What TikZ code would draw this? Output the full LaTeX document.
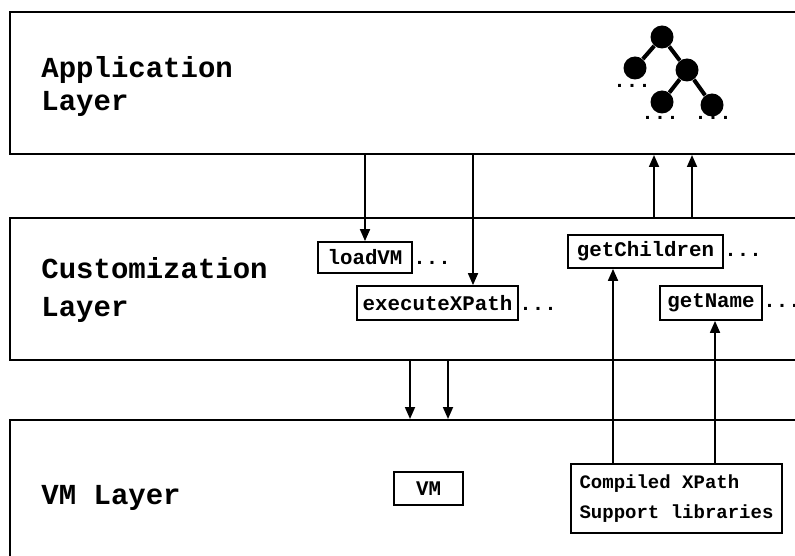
\documentclass[tikz,border=0pt]{standalone}
\usepackage{fontspec}
\setmonofont{Liberation Mono}
\usetikzlibrary{arrows.meta,fit}

\tikzset{
  layer/.style={draw, line width=1pt, inner sep=0pt},
  layertext/.style={font=\ttfamily\bfseries\fontsize{14.5}{16.5}\selectfont, align=left, inner sep=0pt},
  fnbox/.style={draw, line width=0.9pt, inner sep=0pt, font=\ttfamily\bfseries\fontsize{10.4}{12}\selectfont},
  dots/.style={font=\ttfamily\bfseries\fontsize{10.4}{12}\selectfont, inner sep=0pt, anchor=base west},
  call/.style={-{Triangle[length=6pt,width=5pt]}, line width=0.9pt},
  treenode/.style={circle, fill, inner sep=0pt, minimum size=11.5pt},
  branch/.style={line width=2pt},
}

\begin{document}
\begin{tikzpicture}[x=0.5pt, y=-0.5pt]
    \clip (0,0) rectangle (795,555);

    % Layers
    \node[layer, fit={(10,12) (805,154)}] (appl) {};
    \node[layer, fit={(10,218) (805,360)}] (cust) {};
    \node[layer, fit={(10,420) (805,600)}] (vmlayer) {};
    \node[layertext, anchor=west] (appltext) at (41,87) {Application\\Layer};
    \node[layertext, anchor=west] (custtext) at (41,290) {Customization\\[2pt]Layer};
    \node[layertext, anchor=base west] (vmtext) at (41,504) {VM Layer};

    % Tree
    \node[treenode] (root) at (662,37) {};
    \node[treenode] (lc) at (635,68) {};
    \node[treenode] (rc) at (687,70) {};
    \node[treenode] (lg) at (662,102) {};
    \node[treenode] (rg) at (712,105) {};
    \draw[branch] (root) -- (lc);
    \draw[branch] (root) -- (rc);
    \draw[branch] (rc) -- (lg);
    \draw[branch] (rc) -- (rg);
    \node[dots] (lcdots) at (613,88) {...};
    \node[dots] (lgdots) at (641,120) {...};
    \node[dots] (rgdots) at (694,120) {...};

    % Functions
    \node[fnbox, minimum width=47pt, minimum height=15.5pt] (loadvm) at (365,257.5) {loadVM};
    \node[fnbox, minimum width=80.5pt, minimum height=17pt] (exec) at (437.5,303) {executeXPath};
    \node[fnbox, minimum width=77.5pt, minimum height=16.5pt] (gchild) at (645.5,251.5) {getChildren};
    \node[fnbox, minimum width=51pt, minimum height=17pt] (gname) at (711,303) {getName};
    \node[dots] at (loadvm.base east) {...};
    \node[dots] at (exec.base east) {...};
    \node[dots] at (gchild.base east) {...};
    \node[dots] at (gname.base east) {...};

    % VM and libraries
    \node[fnbox, minimum width=34.5pt, minimum height=16.5pt] (vm) at (428.5,488.5) {VM};
    \node[fnbox, align=left, minimum width=105.5pt, minimum height=34.5pt,
          font=\ttfamily\bfseries\fontsize{9.5}{15}\selectfont] (libs) at (676.5,498.5)
          {Compiled XPath\\Support libraries};

    % Calls down
    \coordinate (xin) at ([xshift=17.75pt]exec.north);
    \draw[call] (appl.south -| loadvm.north) -- (loadvm.north);
    \draw[call] (appl.south -| xin) -- (xin);
    \coordinate (down1) at ([xshift=-9.25pt]vm.north);
    \coordinate (down2) at ([xshift=9.75pt]vm.north);
    \draw[call] (cust.south -| down1) -- (vmlayer.north -| down1);
    \draw[call] (cust.south -| down2) -- (vmlayer.north -| down2);

    % Calls up
    \coordinate (up1) at ([xshift=4.25pt]gchild.north);
    \coordinate (up2) at ([xshift=23.25pt]gchild.north);
    \draw[call] (cust.north -| up1) -- (appl.south -| up1);
    \draw[call] (cust.north -| up2) -- (appl.south -| up2);
    \coordinate (lib1) at ([xshift=-16.25pt]gchild.south);
    \coordinate (lib2) at ([xshift=2pt]gname.south);
    \draw[call] (libs.north -| lib1) -- (lib1);
    \draw[call] (libs.north -| lib2) -- (lib2);
\end{tikzpicture}
\end{document}
